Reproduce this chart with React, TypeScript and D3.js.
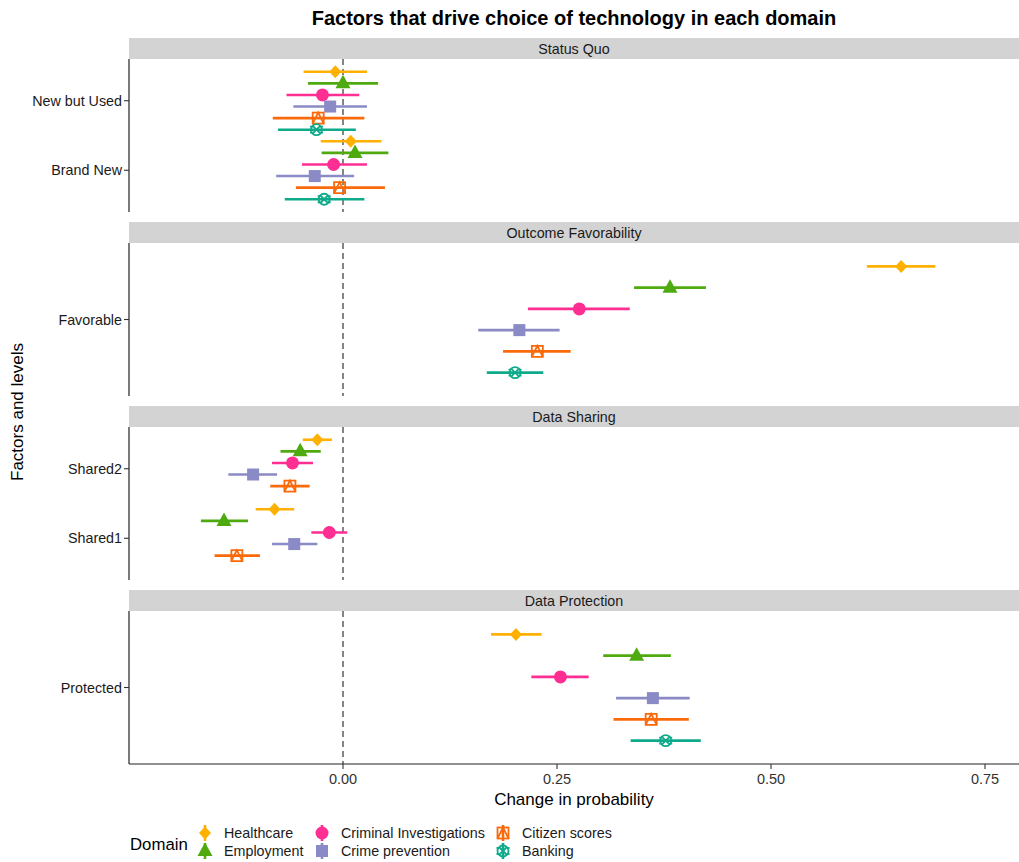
import React from "react";
import * as d3 from "d3";

const domains = ["Healthcare", "Employment", "Criminal Investigations", "Crime prevention", "Citizen scores", "Banking"];
const domainColors = ["#FFB000", "#4FAA10", "#FF2E93", "#8A8AC6", "#FA6A0A", "#0FAA8A"];
const factors = ["Status Quo", "Outcome Favorability", "Data Sharing", "Data Protection"];
const factorLevels = [["New but Used", "Brand New"], ["Favorable"], ["Shared2", "Shared1"], ["Protected"]];
const xTicks = [0, 0.25, 0.5, 0.75];

// estimates, lower and upper bounds per domain (null = not estimated)
const newButUsedEst = [-0.009, 0.0, -0.024, -0.015, -0.029, -0.031];
const newButUsedLo = [-0.046, -0.041, -0.066, -0.058, -0.082, -0.076];
const newButUsedHi = [0.028, 0.041, 0.019, 0.028, 0.025, 0.015];
const brandNewEst = [0.009, 0.014, -0.011, -0.033, -0.004, -0.022];
const brandNewLo = [-0.026, -0.025, -0.048, -0.078, -0.055, -0.068];
const brandNewHi = [0.045, 0.053, 0.028, 0.013, 0.049, 0.025];
const favorableEst = [0.652, 0.382, 0.276, 0.206, 0.227, 0.201];
const favorableLo = [0.612, 0.34, 0.216, 0.158, 0.187, 0.168];
const favorableHi = [0.692, 0.424, 0.335, 0.253, 0.266, 0.234];
const shared2Est = [-0.03, -0.05, -0.059, -0.105, -0.062, null];
const shared2Lo = [-0.047, -0.073, -0.083, -0.134, -0.085, null];
const shared2Hi = [-0.013, -0.026, -0.035, -0.077, -0.039, null];
const shared1Est = [-0.08, -0.139, -0.016, -0.057, -0.124, null];
const shared1Lo = [-0.102, -0.166, -0.037, -0.083, -0.15, null];
const shared1Hi = [-0.057, -0.111, 0.005, -0.03, -0.097, null];
const protectedEst = [0.202, 0.343, 0.254, 0.362, 0.36, 0.377];
const protectedLo = [0.173, 0.304, 0.22, 0.319, 0.316, 0.336];
const protectedHi = [0.232, 0.383, 0.287, 0.405, 0.404, 0.418];

const levelData: Record<string, [(number | null)[], (number | null)[], (number | null)[]]> = {
  "New but Used": [newButUsedEst, newButUsedLo, newButUsedHi],
  "Brand New": [brandNewEst, brandNewLo, brandNewHi],
  Favorable: [favorableEst, favorableLo, favorableHi],
  Shared2: [shared2Est, shared2Lo, shared2Hi],
  Shared1: [shared1Est, shared1Lo, shared1Hi],
  Protected: [protectedEst, protectedLo, protectedHi],
};

const FONT = "'Liberation Sans', Arial, sans-serif";

function Glyph({ i, x, y, c }: { i: number; x: number; y: number; c: string }) {
  switch (i) {
    case 0:
      return <path d={`M${x},${y - 6.5}L${x + 6},${y}L${x},${y + 6.5}L${x - 6},${y}Z`} fill={c} />;
    case 1:
      return <path d={`M${x},${y - 8.5}L${x + 7.5},${y + 5}L${x - 7.5},${y + 5}Z`} fill={c} />;
    case 2:
      return <circle cx={x} cy={y} r={6.5} fill={c} />;
    case 3:
      return <rect x={x - 6} y={y - 6} width={12} height={12} fill={c} />;
    case 4:
      return (
        <g fill="none" stroke={c} strokeWidth={1.8}>
          <rect x={x - 5.5} y={y - 5.5} width={11} height={11} />
          <path d={`M${x - 5.5},${y + 5.5}L${x},${y - 5.5}L${x + 5.5},${y + 5.5}`} />
        </g>
      );
    default:
      return (
        <g fill="none" stroke={c} strokeWidth={1.8}>
          <circle cx={x} cy={y} r={5.5} />
          <path d={`M${x - 4},${y - 4}L${x + 4},${y + 4}M${x + 4},${y - 4}L${x - 4},${y + 4}`} />
          <path d={`M${x - 6.5},${y - 3}L${x - 4},${y - 3}M${x + 4},${y - 3}L${x + 6.5},${y - 3}M${x - 6.5},${y + 3}L${x - 4},${y + 3}M${x + 4},${y + 3}L${x + 6.5},${y + 3}`} />
        </g>
      );
  }
}

export default function App() {
  const W = 1019;
  const H = 862;
  const left = 129;
  const right = 1019;
  const x = d3.scaleLinear().domain([-0.25, 0.7897]).range([left, right]);
  const stripH = 21;
  const panelH = 153;
  const step = 184;
  const top0 = 38;
  const axisY = top0 + 3 * step + stripH + panelH;

  return (
    <svg width={W} height={H} style={{ display: "block", position: "absolute", left: 0, top: 0 }} fontFamily={FONT}>
      <rect width={W} height={H} fill="#fff" />
      <text x={(left + right) / 2} y={25} textAnchor="middle" fontWeight="bold" fontSize={20} fill="#000">
        Factors that drive choice of technology in each domain
      </text>
      {factors.map((f, fi) => {
        const st = top0 + fi * step;
        const pt = st + stripH;
        const pb = pt + panelH;
        const lv = factorLevels[fi];
        const n = lv.length;
        const y = d3.scaleLinear().domain([0.4, n + 0.6]).range([pt, pb]);
        return (
          <g key={f}>
            <rect x={left} y={st} width={right - left} height={stripH} fill="#D3D3D3" />
            <text x={(left + right) / 2} y={st + stripH / 2 + 5} textAnchor="middle" fontSize={14.3} fill="#1a1a1a">
              {f}
            </text>
            <line x1={x(0)} x2={x(0)} y1={pt} y2={pb} stroke="#222" strokeWidth={1.1} strokeDasharray="6,4" />
            <line x1={left} x2={left} y1={pt} y2={pb} stroke="#222" strokeWidth={1.2} />
            {lv.map((l, li) => {
              const yc = y(li + 1);
              const [est, lo, hi] = levelData[l];
              return (
                <g key={l}>
                  <line x1={left - 5} x2={left} y1={yc} y2={yc} stroke="#333" strokeWidth={1.1} />
                  <text x={left - 7} y={yc + 5} textAnchor="end" fontSize={14.3} fill="#1a1a1a">
                    {l}
                  </text>
                  {domains.map((d, di) => {
                    const e = est[di];
                    if (e === null) return null;
                    const yy = y(li + 1 + (di - 2.5) / 6);
                    return (
                      <line key={d} x1={x(lo[di] as number)} x2={x(hi[di] as number)} y1={yy} y2={yy} stroke={domainColors[di]} strokeWidth={2.6} />
                    );
                  })}
                  {domains.map((d, di) => {
                    const e = est[di];
                    if (e === null) return null;
                    const yy = y(li + 1 + (di - 2.5) / 6);
                    return <Glyph key={d} i={di} x={x(e)} y={yy} c={domainColors[di]} />;
                  })}
                </g>
              );
            })}
          </g>
        );
      })}
      <line x1={left} x2={right} y1={axisY} y2={axisY} stroke="#222" strokeWidth={1.2} />
      {xTicks.map((t) => (
        <g key={t}>
          <line x1={x(t)} x2={x(t)} y1={axisY} y2={axisY + 5} stroke="#333" strokeWidth={1.1} />
          <text x={x(t)} y={axisY + 20} textAnchor="middle" fontSize={14.5} fill="#333">
            {d3.format(".2f")(t)}
          </text>
        </g>
      ))}
      <text x={(left + right) / 2} y={axisY + 41} textAnchor="middle" fontSize={17} fill="#000">
        Change in probability
      </text>
      <text transform={`translate(23,412) rotate(-90)`} textAnchor="middle" fontSize={17} fill="#000">
        Factors and levels
      </text>
      <text x={130} y={850} fontSize={16.8} fill="#000">
        Domain
      </text>
      {domains.map((d, di) => {
        const col = Math.floor(di / 2);
        const row = di % 2;
        const kx = [205, 322, 503][col];
        const ky = 833 + row * 18;
        return (
          <g key={d}>
            <line x1={kx} x2={kx} y1={ky - 8} y2={ky + 8} stroke={domainColors[di]} strokeWidth={2.6} />
            <Glyph i={di} x={kx} y={ky} c={domainColors[di]} />
            <text x={kx + 19} y={ky + 5} fontSize={14.3} fill="#1a1a1a">
              {d}
            </text>
          </g>
        );
      })}
    </svg>
  );
}
